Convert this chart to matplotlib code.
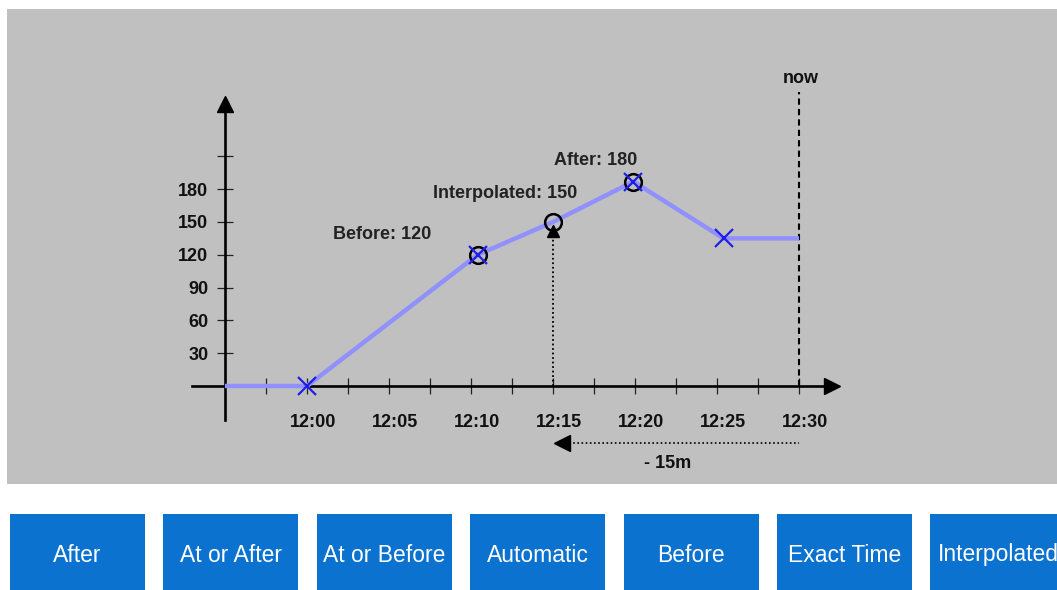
import matplotlib
matplotlib.use("Agg")
import matplotlib.pyplot as plt
from matplotlib.patches import Rectangle
from matplotlib.transforms import ScaledTranslation

# ---------------- data ----------------
# time in minutes after 12:00 (as drawn in the diagram)
line_x = [-5, 0, 10.4, 15, 19.9, 25.4, 30]
line_y = [0, 0, 120, 150, 187, 135, 135]
x_marker_x = [0, 10.4, 19.9, 25.4]
x_marker_y = [0, 120, 187, 135]
circle_x = [10.4, 15, 19.9]
circle_y = [120, 150, 187]
x_ticks_major = [0, 5, 10, 15, 20, 25, 30]
x_tick_labels = ["12:00", "12:05", "12:10", "12:15", "12:20", "12:25", "12:30"]
x_ticks_minor = [-2.5, 2.5, 7.5, 12.5, 17.5, 22.5, 27.5]
y_ticks = [30, 60, 90, 120, 150, 180, 210]
y_tick_labels = ["30", "60", "90", "120", "150", "180", ""]
annotations = [("Before: 120", 4.6, 139), ("Interpolated: 150", 12.1, 176), ("After: 180", 17.6, 206)]
now_x = 30
query_x = 15
offset_label = "- 15m"
buttons = ["After", "At or After", "At or Before", "Automatic", "Before", "Exact Time", "Interpolated"]

# ---------------- layout ----------------
W, H = 1057, 590
fig = plt.figure(figsize=(W / 100, H / 100), dpi=100)
fig.patch.set_facecolor("white")
plt.rcParams["font.family"] = ["Liberation Sans", "DejaVu Sans"]

# gray panel (behind axes)
fig.patches.append(Rectangle((7 / W, 1 - 484 / H), (W - 7) / W, (484 - 9) / H,
                             transform=fig.transFigure, facecolor="#c0c0c0",
                             edgecolor="none", zorder=-5))

# pixel mapping: x=0 -> 307px, 16.4 px/min ; y=0 -> 386px
px_per_min = 16.4
px_per_unit = 32.8 / 30
x0px, y0px = 307, 386
xmin, xmax = -7.0, 32.0
ymin, ymax = -31.0, 258.0
left_px = x0px + xmin * px_per_min
right_px = x0px + xmax * px_per_min
bottom_px = y0px - ymin * px_per_unit
top_px = y0px - ymax * px_per_unit

ax = fig.add_axes([left_px / W, 1 - bottom_px / H, (right_px - left_px) / W, (bottom_px - top_px) / H])
ax.set_zorder(1)
ax.set_facecolor("none")
ax.set_xlim(xmin, xmax)
ax.set_ylim(ymin, ymax)
for s in ["top", "right"]:
    ax.spines[s].set_visible(False)
ax.spines["left"].set_position(("data", -5))
ax.spines["bottom"].set_position(("data", 0))
for s in ["left", "bottom"]:
    ax.spines[s].set_linewidth(1.9)
    ax.spines[s].set_color("black")

ax.set_xticks(x_ticks_major)
ax.set_xticklabels(x_tick_labels, fontsize=13, fontweight="bold", color="#111111")
ax.set_xticks(x_ticks_minor, minor=True)
ax.set_yticks(y_ticks)
ax.set_yticklabels(y_tick_labels, fontsize=13, fontweight="bold", color="#111111")
ax.tick_params(axis="x", which="both", direction="inout", length=12, width=0.9, pad=14.5, color="#222222")
ax.tick_params(axis="y", which="both", direction="inout", length=12, width=0.9, pad=6, color="#222222")
shift = ScaledTranslation(6 / 100, 0, fig.dpi_scale_trans)
for lab in ax.get_xticklabels():
    lab.set_transform(lab.get_transform() + shift)

# axis arrowheads
ax.plot([1], [0], marker=">", color="black", markersize=11, transform=ax.get_yaxis_transform(), clip_on=False)
ax.plot([-5], [1], marker="^", color="black", markersize=11, transform=ax.get_xaxis_transform(), clip_on=False)

# series line
ax.plot(line_x, line_y, color="#9090ff", linewidth=3.2, solid_capstyle="butt", zorder=3)
ax.plot(circle_x, circle_y, linestyle="none", marker="o", markersize=12, markerfacecolor="none",
        markeredgecolor="black", markeredgewidth=1.8, zorder=4)
ax.plot(x_marker_x, x_marker_y, linestyle="none", marker="x", markersize=13, color="#1f1fe6",
        markeredgewidth=1.6, zorder=5)

# query time: dotted line + triangle
ax.plot([query_x, query_x], [0, 135], linestyle=(0, (1, 1.5)), color="black", linewidth=1.3, zorder=2)
ax.plot([query_x], [142], marker="^", color="black", markersize=9, zorder=5)

# now line
ax.plot([now_x, now_x], [0, 269], linestyle=(0, (3, 2)), color="black", linewidth=1.5,
        clip_on=False, zorder=2)
ax.text(now_x + 0.1, 281, "now", ha="center", va="center", fontsize=13, fontweight="bold", color="#111111")

# offset arrow below axis
ax.plot([query_x + 1.0, now_x], [-52, -52], linestyle=(0, (1, 1.5)), color="black", linewidth=1.2, clip_on=False)
ax.plot([query_x + 0.55], [-52], marker="<", color="black", markersize=11, clip_on=False)
ax.text(22.0, -71, offset_label, ha="center", va="center", fontsize=13, fontweight="bold", color="#111111")

# annotations
for txt, tx, ty in annotations:
    ax.text(tx, ty, txt, ha="center", va="center", fontsize=13, fontweight="bold", color="#222222")

# buttons
bw, pitch, bx0, btop = 135, 153.4, 10, 514
for i, label in enumerate(buttons):
    x = bx0 + i * pitch
    fig.patches.append(Rectangle((x / W, 0), bw / W, (H - btop) / H, transform=fig.transFigure,
                                 facecolor="#0b72cf", edgecolor="none"))
    fig.text((x + bw / 2) / W, 1 - 555 / H, label, ha="center", va="center", fontsize=16.5,
             color="white")

fig.savefig("out.png", dpi=100)
